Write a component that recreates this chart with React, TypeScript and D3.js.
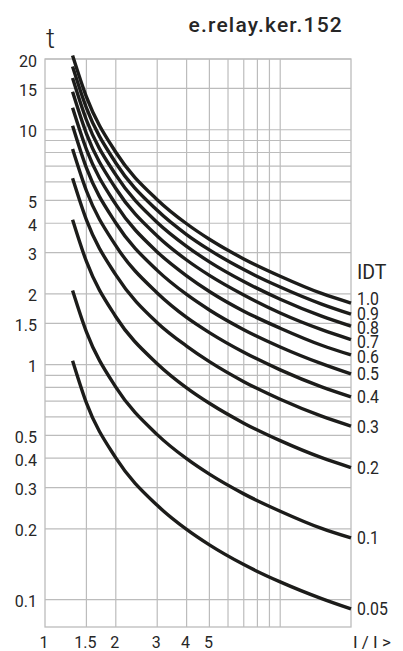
import React from 'react';
import * as d3 from 'd3';

// multiples of the setting current where the curves were read
const currentMultiples = [1.31, 1.5, 2, 3, 4, 5, 7, 10, 15, 20];

// trip time (s) per IDT setting
const idt100 = [20.7, 13.8, 8.02, 5.04, 3.98, 3.42, 2.82, 2.38, 2.01, 1.83];
const idt090 = [18.6, 12.4, 7.22, 4.54, 3.58, 3.08, 2.54, 2.14, 1.81, 1.64];
const idt080 = [16.6, 11.0, 6.42, 4.03, 3.19, 2.74, 2.26, 1.9, 1.61, 1.46];
const idt070 = [14.5, 9.63, 5.62, 3.53, 2.79, 2.4, 1.98, 1.66, 1.41, 1.28];
const idt060 = [12.4, 8.25, 4.81, 3.02, 2.39, 2.05, 1.69, 1.43, 1.21, 1.1];
const idt050 = [10.4, 6.88, 4.01, 2.52, 1.99, 1.71, 1.41, 1.19, 1.01, 0.913];
const idt040 = [8.28, 5.5, 3.21, 2.02, 1.59, 1.37, 1.13, 0.951, 0.805, 0.73];
const idt030 = [6.21, 4.13, 2.41, 1.51, 1.2, 1.03, 0.847, 0.713, 0.604, 0.548];
const idt020 = [4.14, 2.75, 1.6, 1.01, 0.797, 0.685, 0.564, 0.475, 0.402, 0.365];
const idt010 = [2.07, 1.38, 0.802, 0.504, 0.398, 0.342, 0.282, 0.238, 0.201, 0.183];
const idt005 = [1.04, 0.688, 0.401, 0.252, 0.199, 0.171, 0.141, 0.119, 0.101, 0.0913];

const idtNames = ['1.0', '0.9', '0.8', '0.7', '0.6', '0.5', '0.4', '0.3', '0.2', '0.1', '0.05'];
const idtSeries = [idt100, idt090, idt080, idt070, idt060, idt050, idt040, idt030, idt020, idt010, idt005];

const yTicks = [20, 15, 10, 5, 4, 3, 2, 1.5, 1, 0.5, 0.4, 0.3, 0.2, 0.1];
const yGrid = [20, 15, 10, 9, 8, 7, 6, 5, 4, 3, 2, 1.5, 1, 0.9, 0.8, 0.7, 0.6, 0.5, 0.4, 0.3, 0.2, 0.1];
const xTicks = [1, 1.5, 2, 3, 4, 5];
const xGrid = [1.5, 2, 3, 4, 5, 6, 7, 8, 9, 10];

const xMin = 1;
const xMax = 20;
const yMin = 0.0765;
const yMax = 20;

export default function App() {
  const W = 403;
  const H = 651;
  const left = 45, right = 351, top = 59, bottom = 627;
  const font = "Roboto, 'DejaVu Sans', sans-serif";
  const ink = '#262626';
  const gridColor = '#bcbcbc';

  const x = d3.scaleLog().domain([xMin, xMax]).range([left, right]);
  const y = d3.scaleLog().domain([yMin, yMax]).range([bottom, top]);

  const line = d3
    .line<number>()
    .x((d, i) => x(currentMultiples[i]))
    .y((d) => y(d))
    .curve(d3.curveMonotoneX);

  // curve labels: start at curve end, then push apart so they don't overlap
  const gap = 14.3;
  const labelY = idtSeries.map((s) => y(s[s.length - 1]));
  for (let k = 0; k < 80; k++) {
    for (let i = 0; i < labelY.length - 1; i++) {
      const d = labelY[i + 1] - labelY[i];
      if (d < gap) {
        const push = (gap - d) / 2;
        labelY[i] -= push;
        labelY[i + 1] += push;
      }
    }
  }

  return (
    <svg
      width={W}
      height={H}
      style={{ position: 'absolute', left: 0, top: 0, background: '#fff' }}
      fontFamily={font}
    >
      {/* grid */}
      {yGrid.map((v) => (
        <line key={'gy' + v} x1={left} x2={right} y1={y(v)} y2={y(v)} stroke={gridColor} strokeWidth={1.2} />
      ))}
      {xGrid.map((v) => (
        <line key={'gx' + v} x1={x(v)} x2={x(v)} y1={top} y2={bottom} stroke={gridColor} strokeWidth={1.2} />
      ))}
      <rect x={left} y={top} width={right - left} height={bottom - top} fill="none" stroke={gridColor} strokeWidth={1.3} />

      {/* curves */}
      {idtSeries.map((s, i) => (
        <path key={'c' + i} d={line(s) || ''} fill="none" stroke="#1c1c1a" strokeWidth={3.4} />
      ))}

      {/* y ticks */}
      {yTicks.map((v) => (
        <text key={'ty' + v} x={37} y={y(v) + 7.5} textAnchor="end" fontSize={16} fill={ink}>
          {String(v)}
        </text>
      ))}

      {/* x ticks */}
      {xTicks.map((v) => (
        <text key={'tx' + v} x={x(v) - 1} y={647.5} textAnchor="middle" fontSize={16} fill={ink}>
          {String(v)}
        </text>
      ))}

      {/* curve labels */}
      {idtNames.map((n, i) => (
        <text
          key={'l' + n}
          transform={`translate(357,${labelY[i] + 6.5}) scale(0.88,1)`}
          fontSize={18}
          fill={ink}
        >
          {n}
        </text>
      ))}

      <text x={357} y={279} fontSize={19.5} fill={ink}>IDT</text>
      <text x={46} y={48} fontSize={28} fontWeight={300} fill={ink}>t</text>
      <text x={353} y={647.5} fontSize={17} fill={ink}>I / I &gt;</text>
      <text x={343} y={32} textAnchor="end" fontSize={21} fontWeight={500} letterSpacing={1.2} fill={ink}>
        e.relay.ker.152
      </text>
    </svg>
  );
}
